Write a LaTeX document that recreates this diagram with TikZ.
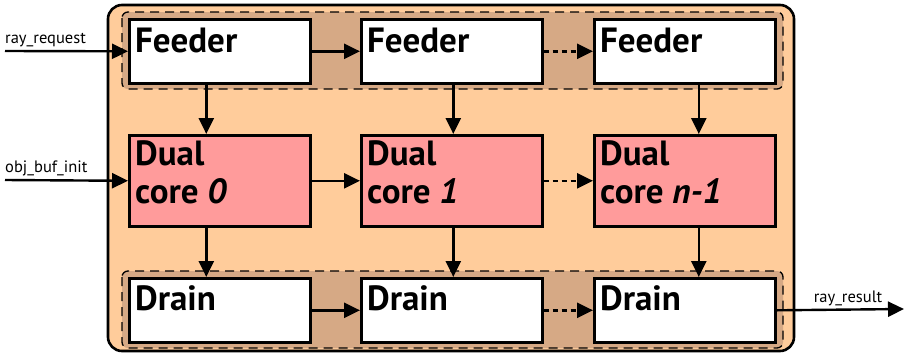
\documentclass[tikz,border=0pt]{standalone}
\usepackage{fontspec}
\setmainfont{PT Sans}
\usetikzlibrary{arrows.meta,calc}
\definecolor{peach}{RGB}{255,204,155}
\definecolor{tan}{RGB}{214,169,133}
\definecolor{lightred}{RGB}{255,155,155}

\begin{document}
\begin{tikzpicture}[x=1pt,y=-1pt,
    stage/.style={draw, line width=2.6pt, fill=white, anchor=north west, minimum width=181pt, minimum height=64pt, inner sep=0pt},
    core/.style={stage, fill=lightred, minimum height=91pt},
    tag/.style={anchor=base west, font=\fontsize{35}{38}\selectfont\bfseries, inner sep=0pt, align=left},
    band/.style={draw, dashed, dash pattern=on 9pt off 6pt, line width=1.3pt, fill=tan, rounded corners=6pt},
    wire/.style={line width=2.4pt, -{Triangle[length=16pt,width=15pt]}},
    dotwire/.style={wire, dash pattern=on 5pt off 4pt},
    io/.style={font=\fontsize{16.5}{18}\selectfont, inner sep=0pt}]
    \useasboundingbox (0,0) rectangle (904,354);

    % outer block and the two queue bands
    \draw[line width=2.6pt, fill=peach, rounded corners=14pt] (108,5) rectangle (794,351);
    \draw[band] (122,12) rectangle (783,89);
    \draw[band] (122,271) rectangle (783,348);

    % feeders
    \node[stage] (f0) at (128,18) {};
    \node[stage] (f1) at (360,18) {};
    \node[stage] (f2) at (593,18) {};
    \node[tag] (f0t) at (135,52) {Feeder};
    \node[tag] (f1t) at (367,52) {Feeder};
    \node[tag] (f2t) at (600,52) {Feeder};

    % cores
    \node[core] (c0) at (128,134) {};
    \node[core] (c1) at (360,134) {};
    \node[core] (c2) at (593,134) {};
    \node[tag, anchor=north west] (c0t) at (135,140) {Dual\\core \textit{0}};
    \node[tag, anchor=north west] (c1t) at (367,140) {Dual\\core \textit{1}};
    \node[tag, anchor=north west] (c2t) at (600,140) {Dual\\core \textit{n-1}};

    % drains
    \node[stage] (d0) at (128,277) {};
    \node[stage] (d1) at (360,277) {};
    \node[stage] (d2) at (593,277) {};
    \node[tag] (d0t) at (135,310) {Drain};
    \node[tag] (d1t) at (367,310) {Drain};
    \node[tag] (d2t) at (600,310) {Drain};

    % inputs and output
    \coordinate (rin) at (5,51);
    \coordinate (oin) at (5,180);
    \coordinate (rout) at (904,309);
    \node[io, anchor=base west] (rl) at (5,43) {ray\_request};
    \node[io, anchor=base west] (ol) at (5,172) {obj\_buf\_init};
    \node[io, anchor=base] (xl) at (848,302) {ray\_result};
    \draw[wire] (rin) -- (f0.west);
    \draw[wire] (oin) -- (c0.west);
    \draw[wire] (d2.east) -- (rout);

    % chain along each row
    \draw[wire] (f0.east) -- (f1.west);
    \draw[dotwire] (f1.east) -- (f2.west);
    \draw[wire] (c0.east) -- (c1.west);
    \draw[dotwire] (c1.east) -- (c2.west);
    \draw[wire] (d0.east) -- (d1.west);
    \draw[dotwire] (d1.east) -- (d2.west);

    % down the columns
    \draw[wire] ([xshift=-13.5pt]f0.south) -- ([xshift=-13.5pt]c0.north);
    \draw[wire] ([xshift=1.5pt]f1.south) -- ([xshift=1.5pt]c1.north);
    \draw[wire] ([xshift=14pt]f2.south) -- ([xshift=14pt]c2.north);
    \draw[wire] ([xshift=-13.5pt]c0.south) -- ([xshift=-13.5pt]d0.north);
    \draw[wire] ([xshift=1.5pt]c1.south) -- ([xshift=1.5pt]d1.north);
    \draw[wire] ([xshift=14pt]c2.south) -- ([xshift=14pt]d2.north);
\end{tikzpicture}
\end{document}
